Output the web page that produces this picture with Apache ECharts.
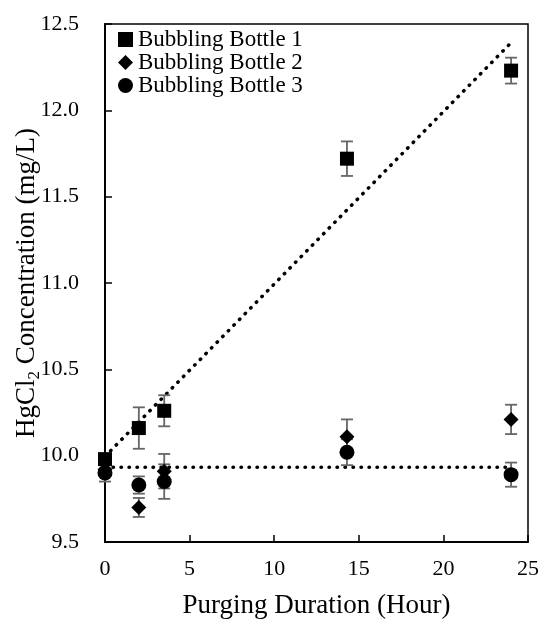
<!DOCTYPE html>
<html lang="en">
<head>
    <meta charset="UTF-8">
    <script src="https://cdn.jsdelivr.net/npm/echarts@6/dist/echarts.min.js"></script>
    <title>HgCl2 Concentration</title>
    <style>
        html, body { margin: 0; padding: 0; background: #fff; }
        #main { width: 540px; height: 620px; }
    </style>
</head>
<body>
<div id="main"></div>
<script>
    // purging time (hour)
    var hours = [0, 2, 3.5, 14.3, 24];
    var names = ['Bubbling Bottle 1', 'Bubbling Bottle 2', 'Bubbling Bottle 3'];
    var bottle1 = [9.98, 10.16, 10.26, 11.72, 12.23];
    var bottle2 = [9.92, 9.70, 9.91, 10.11, 10.21];
    var bottle3 = [9.90, 9.83, 9.85, 10.02, 9.89];
    var err1 = [0.03, 0.12, 0.09, 0.10, 0.075];
    var err2 = [0.03, 0.055, 0.10, 0.10, 0.085];
    var err3 = [0.05, 0.05, 0.10, 0.075, 0.07];
    // flat dotted line drawn under bottles 2/3
    var flatLine = [9.933, 9.933];
    var yTicks = [9.5, 10.0, 10.5, 11.0, 11.5, 12.0, 12.5];
    var xTicks = [0, 5, 10, 15, 20, 25];

    var FONT = 'Liberation Serif';

    // linear fit for bottle 1 (Excel trendline)
    function linFit(xs, ys) {
        var n = xs.length, mx = 0, my = 0, sxy = 0, sxx = 0;
        for (var i = 0; i < n; i++) { mx += xs[i]; my += ys[i]; }
        mx /= n; my /= n;
        for (var j = 0; j < n; j++) {
            sxy += (xs[j] - mx) * (ys[j] - my);
            sxx += (xs[j] - mx) * (xs[j] - mx);
        }
        var k = sxy / sxx;
        return { k: k, b: my - k * mx };
    }
    var fit = linFit(hours, bottle1);
    var xFirst = hours[0], xLast = hours[hours.length - 1];
    var trend1 = [[xFirst, fit.b + fit.k * xFirst], [xLast, fit.b + fit.k * xLast]];
    var trend2 = [[xFirst, flatLine[0]], [xLast, flatLine[1]]];

    function pts(ys) {
        return hours.map(function (x, i) { return [x, ys[i]]; });
    }
    function errData(ys, es) {
        return hours.map(function (x, i) { return [x, ys[i] - es[i], ys[i] + es[i]]; });
    }

    function errSeries(ys, es) {
        return {
            type: 'custom',
            silent: true,
            z: 2,
            data: errData(ys, es),
            renderItem: function (params, api) {
                var lo = api.coord([api.value(0), api.value(1)]);
                var hi = api.coord([api.value(0), api.value(2)]);
                var w = 6;
                var st = { stroke: '#666666', lineWidth: 1.8 };
                return {
                    type: 'group',
                    children: [
                        { type: 'line', shape: { x1: hi[0], y1: hi[1], x2: lo[0], y2: lo[1] }, style: st },
                        { type: 'line', shape: { x1: hi[0] - w, y1: hi[1], x2: hi[0] + w, y2: hi[1] }, style: st },
                        { type: 'line', shape: { x1: lo[0] - w, y1: lo[1], x2: lo[0] + w, y2: lo[1] }, style: st }
                    ]
                };
            }
        };
    }

    function dotLine(data) {
        return {
            type: 'line',
            silent: true,
            z: 1,
            data: data,
            symbol: 'none',
            lineStyle: { color: '#000', width: 3.5, type: [0.5, 7.5], cap: 'round' }
        };
    }

    function marker(name, sym, size, ys, z) {
        return {
            name: name, type: 'scatter', z: z,
            symbol: sym, symbolSize: size,
            itemStyle: { color: '#000', opacity: 1 },
            data: pts(ys)
        };
    }

    var myChart = echarts.init(document.getElementById('main'), null, { renderer: 'canvas' });

    var option = {
        backgroundColor: '#fff',
        animation: false,
        grid: {
            left: 105, right: 12, top: 24, bottom: 78,
            outerBoundsMode: 'none',
            containLabel: false,
            show: true, borderColor: '#000', borderWidth: 1.5
        },
        legend: {
            orient: 'vertical',
            left: 118,
            top: 28,
            padding: 0,
            itemGap: 0,
            itemWidth: 15,
            itemHeight: 15,
            data: names,
            textStyle: { fontFamily: FONT, fontSize: 23, color: '#000' }
        },
        xAxis: {
            type: 'value',
            min: xTicks[0],
            max: xTicks[xTicks.length - 1],
            interval: 5,
            name: 'Purging Duration (Hour)',
            nameLocation: 'middle',
            nameGap: 50,
            nameMoveOverlap: false,
            nameTextStyle: { fontFamily: FONT, fontSize: 27, color: '#000' },
            axisLine: { lineStyle: { color: '#000', width: 2 } },
            axisTick: { inside: true, length: 7, lineStyle: { color: '#000', width: 1.5 } },
            axisLabel: { margin: 16, fontFamily: FONT, fontSize: 22, color: '#000' },
            splitLine: { show: false }
        },
        yAxis: {
            type: 'value',
            min: yTicks[0],
            max: yTicks[yTicks.length - 1],
            interval: 0.5,
            name: '{a|HgCl}{sub|2}{a| Concentration (mg/L)}',
            nameLocation: 'middle',
            nameGap: 62,
            nameMoveOverlap: false,
            nameTextStyle: {
                fontFamily: FONT, fontSize: 27, color: '#000',
                rich: {
                    a: { fontFamily: FONT, fontSize: 27, lineHeight: 32, color: '#000' },
                    sub: { fontFamily: FONT, fontSize: 17, lineHeight: 17, verticalAlign: 'bottom', color: '#000' }
                }
            },
            axisLine: { show: true, lineStyle: { color: '#000', width: 2 } },
            axisTick: { show: true, inside: true, length: 7, lineStyle: { color: '#000', width: 1.5 } },
            axisLabel: {
                margin: 26, fontFamily: FONT, fontSize: 22, color: '#000',
                formatter: function (v) { return v.toFixed(1); }
            },
            splitLine: { show: false }
        },
        series: [
            dotLine(trend1),
            dotLine(trend2),
            errSeries(bottle1, err1),
            errSeries(bottle2, err2),
            errSeries(bottle3, err3),
            marker(names[0], 'rect', 14, bottle1, 3),
            marker(names[1], 'diamond', 15, bottle2, 4),
            marker(names[2], 'circle', 15, bottle3, 5)
        ]
    };

    myChart.setOption(option);
</script>
</body>
</html>
